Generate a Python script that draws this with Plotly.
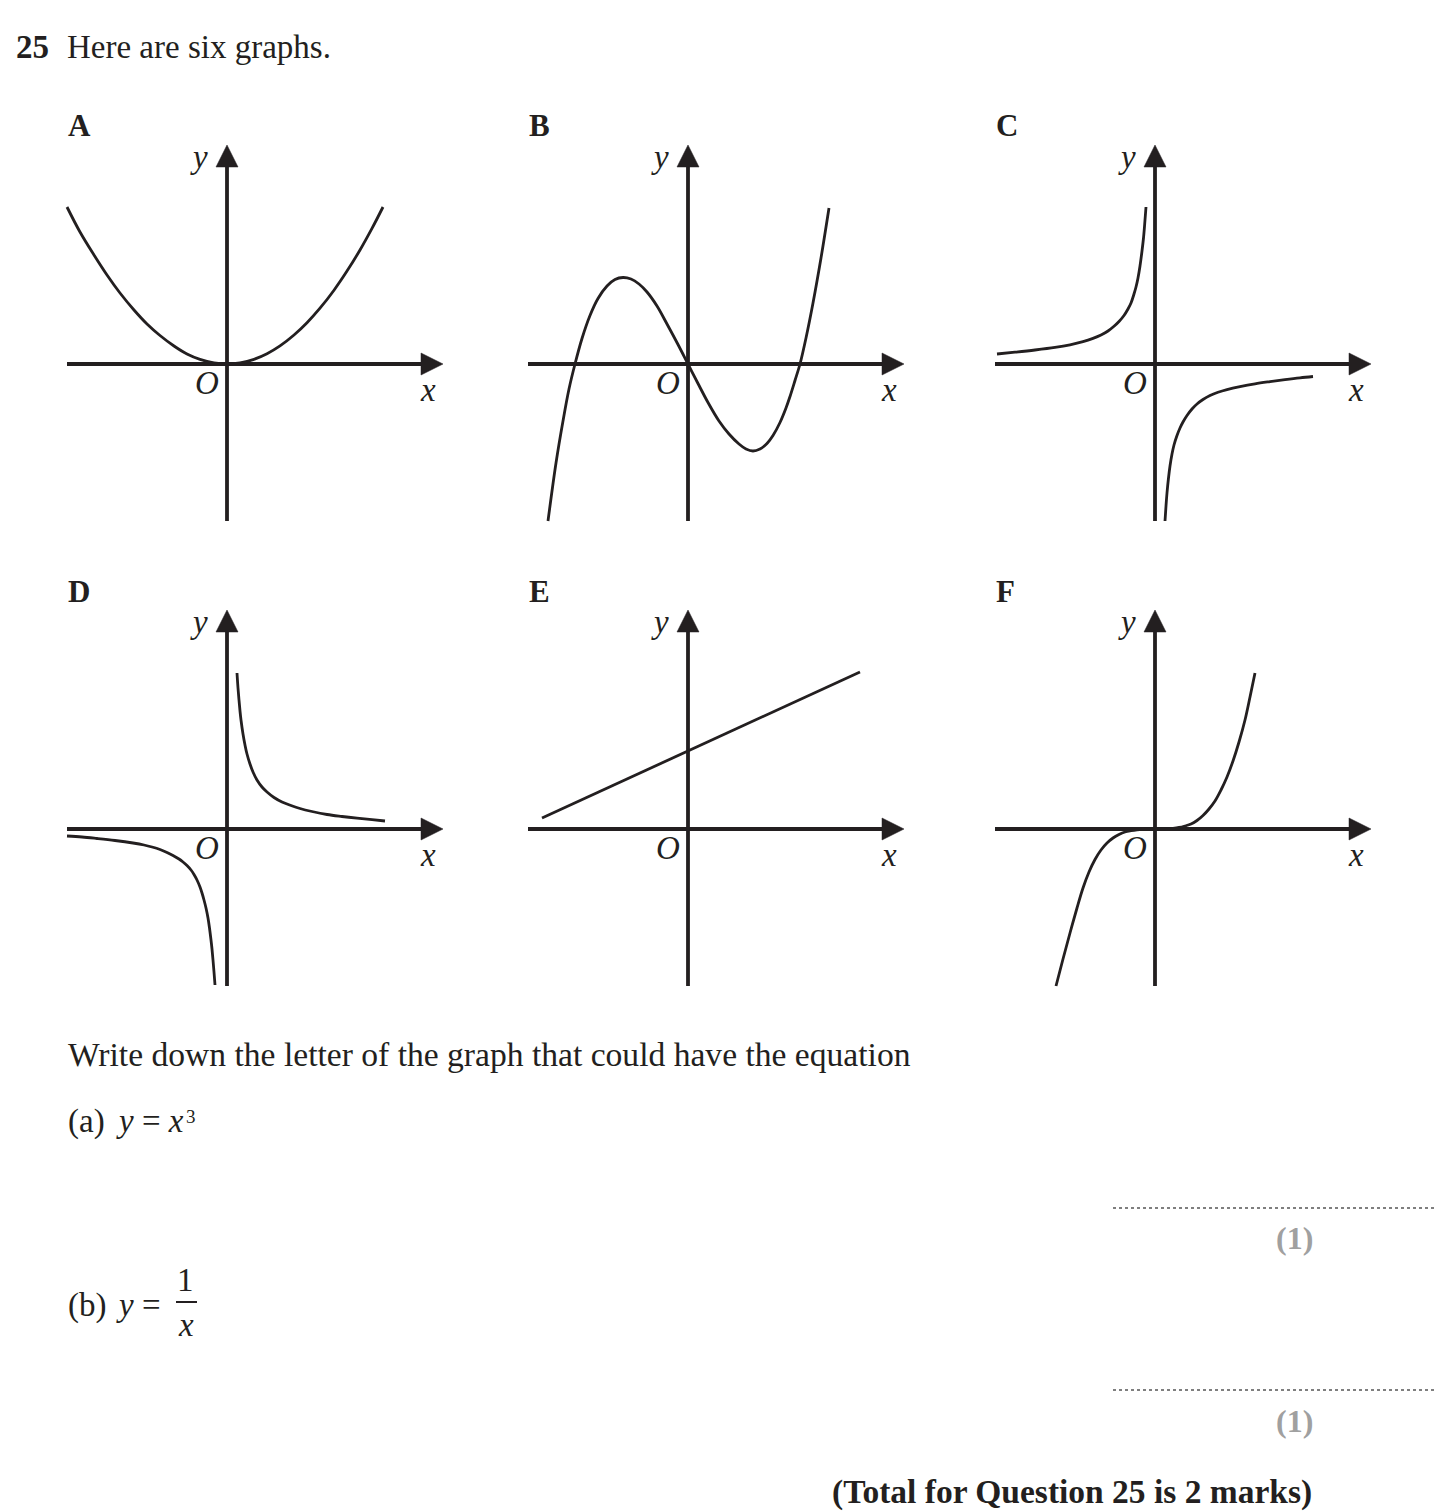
import plotly.graph_objects as go

W, H = 1446, 1511
INK = "#231F20"
FONT = "Liberation Serif, Times New Roman, serif"

# ---------------- data ----------------
# units: pixels relative to each graph's origin (x to the right, y upward)
graph_letters = ["A", "B", "C", "D", "E", "F"]

# A : parabola
A_x = [-160, -147, -133, -120, -107, -93, -80, -67, -53, -40, -27, -13, 0,
       13, 27, 40, 53, 67, 80, 93, 107, 120, 133, 145, 156]
A_y = [157, 132, 109, 89, 71, 54, 40, 28.5, 18, 10, 4.6, 1.1, 0,
       1.1, 4.7, 10.3, 18.1, 29, 41.3, 55.8, 73.8, 92.9, 114, 135.6, 157]

# B : cubic with three roots
B_x = [-140, -132, -125, -119, -113, -106, -98, -90, -81, -73, -65, -57, -49, -41, -31, -21, -10, 0,
       10, 20, 31, 41, 51, 58, 65, 72, 79, 85, 92, 98, 102, 107, 112, 118, 125, 133, 141]
B_y = [-157, -99, -57, -25, 0, 25.5, 48.5, 65.5, 78, 84.5, 86.5, 85, 80, 72, 58, 40, 19.5, 0,
       -19.5, -38.5, -57, -70, -80, -85, -87, -85, -79.5, -71.5, -58.5, -44, -32.5, -16.5, 0,
       26, 61, 106, 156]

# C : negative reciprocal (two branches)
C_left_x = [-158, -140, -120, -100, -85, -72, -62, -54, -47, -41, -36, -31, -27, -24, -21, -19, -17,
            -15, -13, -11.5, -10.3, -9]
C_left_y = [10, 11.8, 14, 16.6, 19.2, 22.3, 25.6, 29, 33, 37.7, 42.5, 48.5, 55, 61, 70, 77, 86,
            98, 113, 126, 140, 157]
C_right_x = [10, 11, 12, 13.5, 15, 17, 19, 22, 25, 28, 32, 37, 42, 48, 55, 63, 72, 85, 100, 115,
             130, 145, 158]
C_right_y = [-157, -142, -129, -114, -102, -90, -81, -71.5, -64, -58, -51.5, -45, -40, -35.5, -31.5,
             -28.3, -25.6, -22.6, -19.8, -17.6, -15.6, -13.8, -12.5]

# D : reciprocal (two branches)
D_left_x = [-160, -145, -130, -112, -94, -83, -75, -67, -60, -54, -48, -44, -40, -36, -33, -30, -27,
            -25, -23, -21, -19, -17.5, -16, -15, -14, -13, -12]
D_left_y = [-7, -8, -9.5, -11.5, -14, -16, -18, -20.5, -23.5, -26.5, -30, -33, -36.5, -41, -45.5,
            -51, -58, -64, -71, -79, -89, -99, -111, -120, -131, -143, -156]
D_right_x = [10, 11, 12, 13, 14, 16, 18, 20, 23, 26, 30, 35, 40, 47, 55, 64, 73, 85, 100, 115, 130,
             145, 158]
D_right_y = [156, 141, 129, 118, 109, 95, 84, 75, 65, 57, 49, 42, 37, 31.5, 27, 23.5, 20.5, 17.5,
             14.5, 12.5, 10.8, 9.3, 8]

# E : straight line
E_x = [-146, 172]
E_y = [11, 157]

# F : cube curve
F_x = [-99, -92, -85, -78, -72, -66, -60, -54, -48, -42, -36, -30, -24, -18, -12, -6, 0,
       6, 12, 18, 24, 30, 36, 42, 48, 54, 60, 66, 72, 78, 84, 90, 95, 100]
F_y = [-157, -130, -104, -79, -59, -43, -30.5, -21, -14, -9, -5.5, -3, -1.7, -0.8, -0.3, -0.1, 0,
       0.1, 0.3, 0.7, 1.5, 3, 5, 8.5, 13.5, 20, 28, 39, 52, 68, 87, 109, 132, 156]

# ---------------- layout of the six small graphs ----------------
ORIGINS = [(227, 364), (688, 364), (1155, 364), (227, 829), (688, 829), (1155, 829)]
XR = (-175, 235)   # axis ranges (1 unit = 1 px)
YR = (-170, 235)

fig = go.Figure()
layout = dict(
    width=W, height=H, autosize=False,
    margin=dict(l=0, r=0, t=0, b=0, pad=0),
    paper_bgcolor="white", plot_bgcolor="rgba(0,0,0,0)",
    showlegend=False,
    font=dict(family=FONT, color=INK, size=33),
)
shapes = []
annotations = []

curves = [
    [(A_x, A_y, "spline")],
    [(B_x, B_y, "spline")],
    [(C_left_x, C_left_y, "spline"), (C_right_x, C_right_y, "spline")],
    [(D_left_x, D_left_y, "spline"), (D_right_x, D_right_y, "spline")],
    [(E_x, E_y, "linear")],
    [(F_x, F_y, "spline")],
]

for i, (ox, oy) in enumerate(ORIGINS):
    n = "" if i == 0 else str(i + 1)
    xname, yname = "xaxis" + n, "yaxis" + n
    xr, yr = "x" + n, "y" + n
    layout[xname] = dict(domain=[(ox + XR[0]) / W, (ox + XR[1]) / W], range=list(XR),
                         visible=False, fixedrange=True, anchor=yr)
    layout[yname] = dict(domain=[1 - (oy - YR[0]) / H, 1 - (oy - YR[1]) / H], range=list(YR),
                         visible=False, fixedrange=True, anchor=xr)
    # axes lines
    shapes.append(dict(type="line", xref=xr, yref=yr, x0=-160, y0=0, x1=198, y1=0,
                       line=dict(color=INK, width=3.8), layer="below"))
    shapes.append(dict(type="line", xref=xr, yref=yr, x0=0, y0=-157, x1=0, y1=200,
                       line=dict(color=INK, width=3.8), layer="below"))
    # arrow heads
    shapes.append(dict(type="path", xref=xr, yref=yr, path="M 194,-11 L 216,0 L 194,11 Z",
                       fillcolor=INK, line=dict(color=INK, width=0.5)))
    shapes.append(dict(type="path", xref=xr, yref=yr, path="M -11,197 L 0,219 L 11,197 Z",
                       fillcolor=INK, line=dict(color=INK, width=0.5)))
    # curves
    for (cx, cy, shp) in curves[i]:
        fig.add_trace(go.Scatter(x=cx, y=cy, mode="lines", xaxis=xr, yaxis=yr,
                                 line=dict(color=INK, width=2.8, shape=shp, smoothing=1.0),
                                 hoverinfo="skip"))
    # axis labels
    annotations.append(dict(xref=xr, yref=yr, x=-28, y=207, text="<i>y</i>", showarrow=False,
                            font=dict(size=33, family=FONT, color=INK), xanchor="center", yanchor="middle"))
    annotations.append(dict(xref=xr, yref=yr, x=-20, y=-19, text="<i>O</i>", showarrow=False,
                            font=dict(size=33, family=FONT, color=INK), xanchor="center", yanchor="middle"))
    annotations.append(dict(xref=xr, yref=yr, x=201, y=-26, text="<i>x</i>", showarrow=False,
                            font=dict(size=33, family=FONT, color=INK), xanchor="center", yanchor="middle"))
    # graph letter
    annotations.append(dict(xref="paper", yref="paper", x=(ox - 161) / W, y=1 - (oy - 238) / H,
                            text="<b>%s</b>" % graph_letters[i], showarrow=False,
                            font=dict(size=31, family=FONT, color=INK), xanchor="left", yanchor="middle"))


def P(x, y):
    return x / W, 1 - y / H


def text(x, y, s, size=33, xanchor="left", color=INK):
    px, py = P(x, y)
    annotations.append(dict(xref="paper", yref="paper", x=px, y=py, text=s, showarrow=False,
                            font=dict(size=size, family=FONT, color=color),
                            xanchor=xanchor, yanchor="middle"))


text(14, 47, "<b>25</b>")
text(65, 47, "Here are six graphs.")
text(66, 1054, "Write down the letter of the graph that could have the equation", size=33.6)
text(66, 1121, "(a)")
text(114, 1121, "<i>y</i> = <i>x</i>")
text(191, 1116, "3", size=19, xanchor="center")
text(66, 1305, "(b)")
text(114, 1305, "<i>y</i> =")
text(186, 1280, "1", xanchor="center")
text(186, 1325, "<i>x</i>", xanchor="center")
x0, y0 = P(176, 1302)
x1, _ = P(197, 1302)
shapes.append(dict(type="line", xref="paper", yref="paper", x0=x0, y0=y0, x1=x1, y1=y0,
                   line=dict(color=INK, width=2)))
for ly in (1208, 1390):
    a0, b0 = P(1113, ly)
    a1, _ = P(1434, ly)
    shapes.append(dict(type="line", xref="paper", yref="paper", x0=a0, y0=b0, x1=a1, y1=b0,
                       line=dict(color="#555555", width=1.3, dash="dot")))
text(1294, 1238, "<b>(1)</b>", size=32, xanchor="center", color="#A0A0A0")
text(1294, 1421, "<b>(1)</b>", size=32, xanchor="center", color="#A0A0A0")
text(1314, 1492, "<b>(Total for Question 25 is 2 marks)</b>", size=33.5, xanchor="right")

layout["shapes"] = shapes
layout["annotations"] = annotations
fig.update_layout(**layout)

fig.write_html("out.html", config={"displayModeBar": False, "staticPlot": True},
               post_script="document.body.style.margin='0';document.body.style.overflow='hidden';")
